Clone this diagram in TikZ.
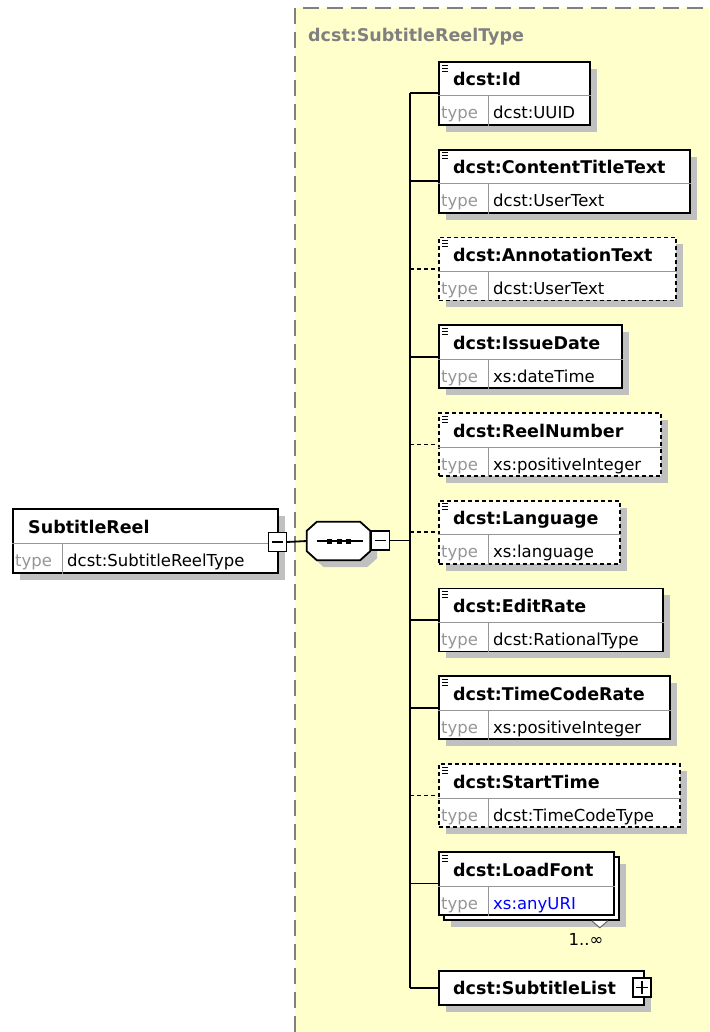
\documentclass[tikz,border=0pt]{standalone}
\usepackage{fontspec}
\setmainfont{DejaVu Sans}
\usepackage{tikz}

\definecolor{typebg}{RGB}{255,255,204}
\definecolor{shadowgray}{RGB}{192,192,192}
\definecolor{framegray}{RGB}{128,128,128}
\definecolor{typegray}{RGB}{150,150,150}
\definecolor{uriblue}{RGB}{0,0,255}

\tikzset{
  shadowed/.style={preaction={fill=shadowgray, draw=none, transform canvas={xshift=7pt, yshift=-7pt}}},
  elembox/.style={draw, fill=white, line width=1.8pt, inner sep=0pt, anchor=north west, minimum height=63pt},
  req/.style={},
  opt/.style={dash pattern=on 4pt off 3pt},
  conn/.style={line width=1.8pt},
  divider/.style={draw=typegray, line width=1pt},
  hdr/.style={font=\fontsize{17.5}{20}\selectfont\bfseries, anchor=base west, inner sep=0pt},
  typelbl/.style={font=\fontsize{16.5}{19}\selectfont, text=typegray, anchor=base west, inner sep=0pt},
  typeval/.style={font=\fontsize{16.5}{19}\selectfont, anchor=base west, inner sep=0pt},
  pmbox/.style={draw, fill=white, line width=1.3pt, minimum width=18pt, minimum height=19pt, inner sep=0pt},
}

\begin{document}
\begin{tikzpicture}[x=1pt, y=-1pt]
\useasboundingbox (0,0) rectangle (709,1032);

% complex type area
\fill[typebg] (295,8) rectangle (709,1032);
\draw[framegray, line width=1.5pt, dash pattern=on 16pt off 8pt] (295,1032) -- (295,8) -- (709,8);
\node[hdr, text=framegray] (typename) at (308,42) {dcst:SubtitleReelType};

% the element itself
\node[elembox, req, shadowed, minimum width=265, minimum height=64] (subreel) at (12,508) {};
\draw[divider] ([yshift=-35pt]subreel.north west) -- ([yshift=-35pt]subreel.north east);
\draw[divider] ([xshift=50pt,yshift=-35pt]subreel.north west) -- ([xshift=50pt]subreel.south west);
\node[hdr] (subreel title) at ([xshift=16pt,yshift=-25pt]subreel.north west) {SubtitleReel};
\node[typelbl] (subreel type) at ([xshift=3pt,yshift=-58pt]subreel.north west) {type};
\node[typeval] (subreel val) at ([xshift=55pt,yshift=-58pt]subreel.north west) {dcst:SubtitleReelType};
\node[pmbox] (reelmin) at (277.5,542) {};
\draw[line width=1.3pt] ([xshift=4pt]reelmin.west) -- ([xshift=-4pt]reelmin.east);

% sequence compositor
\node[inner sep=0pt, minimum width=63pt, minimum height=38pt] (seq) at (338.5,541) {};
\draw[conn, fill=white, shadowed]
  ([xshift=10pt]seq.north west) -- ([xshift=-10pt]seq.north east) -- ([yshift=-9pt]seq.north east)
  -- ([yshift=9pt]seq.south east) -- ([xshift=-10pt]seq.south east) -- ([xshift=10pt]seq.south west)
  -- ([yshift=9pt]seq.south west) -- ([yshift=-9pt]seq.north west) -- cycle;
\draw[conn] ([xshift=-22pt]seq.center) -- ([xshift=24pt]seq.center);
\foreach \dx in {-9.5,0.5,9.5}
  \fill ([xshift=\dx pt-2.5pt, yshift=-2.5pt]seq.center) rectangle ++(5,-5);
\node[pmbox] (seqmin) at (380.5,540.5) {};
\draw[line width=1.3pt] ([xshift=4pt]seqmin.west) -- ([xshift=-4pt]seqmin.east);
\draw[conn] (reelmin.east) -- (seq.west);

\coordinate (trunk) at (410,541);
\draw[conn] (seqmin.east) -- (seqmin.east -| trunk);

% child elements
\foreach \nm/\i/\w/\ttl/\typ/\kind in {
    id/0/151/dcst:Id/dcst:UUID/req,
    ctt/1/251/dcst:ContentTitleText/dcst:UserText/req,
    ann/2/237/dcst:AnnotationText/dcst:UserText/opt,
    date/3/183/dcst:IssueDate/xs:dateTime/req,
    reelno/4/222/dcst:ReelNumber/xs:positiveInteger/opt,
    lang/5/181/dcst:Language/xs:language/opt,
    rate/6/224/dcst:EditRate/dcst:RationalType/req,
    tcr/7/231/dcst:TimeCodeRate/xs:positiveInteger/req,
    start/8/241/dcst:StartTime/dcst:TimeCodeType/opt} {
  \node[elembox, \kind, shadowed, minimum width=\w] (\nm) at (438,{61+87.75*\i}) {};
  \draw[divider] ([yshift=-35pt]\nm.north west) -- ([yshift=-35pt]\nm.north east);
  \draw[divider] ([xshift=50pt,yshift=-35pt]\nm.north west) -- ([xshift=50pt]\nm.south west);
  \foreach \k in {4,7,10}
    \draw[line width=0.8pt] ([xshift=4pt,yshift=-\k pt]\nm.north west) -- ++(6,0);
  \node[hdr] (\nm title) at ([xshift=15pt,yshift=-25pt]\nm.north west) {\ttl};
  \node[typelbl] (\nm type) at ([xshift=3pt,yshift=-58pt]\nm.north west) {type};
  \node[typeval] (\nm val) at ([xshift=55pt,yshift=-58pt]\nm.north west) {\typ};
  \draw[conn, \kind] (\nm.west -| trunk) -- (\nm.west);
}

% LoadFont, more than one
\node[elembox, req, shadowed, minimum width=175] (fontback) at (443,856) {};
\draw[fill=white, draw=black!60, line width=1pt] ([xshift=-28pt]fontback.south east) -- ++(8,7) -- ++(8,-7);
\node[elembox, req, minimum width=175] (font) at (438,851) {};
\draw[divider] ([yshift=-35pt]font.north west) -- ([yshift=-35pt]font.north east);
\draw[divider] ([xshift=50pt,yshift=-35pt]font.north west) -- ([xshift=50pt]font.south west);
\foreach \k in {4,7,10}
  \draw[line width=0.8pt] ([xshift=4pt,yshift=-\k pt]font.north west) -- ++(6,0);
\node[hdr] (font title) at ([xshift=15pt,yshift=-25pt]font.north west) {dcst:LoadFont};
\node[typelbl] (font type) at ([xshift=3pt,yshift=-58pt]font.north west) {type};
\node[typeval, text=uriblue] (font val) at ([xshift=55pt,yshift=-58pt]font.north west) {xs:anyURI};
\node[typeval, anchor=base] (fontmult) at (586,945) {1..∞};
\draw[conn] (font.west -| trunk) -- (font.west);

% SubtitleList
\node[elembox, req, shadowed, minimum width=205, minimum height=34] (list) at (438,970) {};
\node[hdr] (list title) at ([xshift=15pt,yshift=-24pt]list.north west) {dcst:SubtitleList};
\node[pmbox] (listplus) at (642,987.5) {};
\draw[line width=1.3pt] ([xshift=4pt]listplus.west) -- ([xshift=-4pt]listplus.east)
  ([yshift=-4pt]listplus.north) -- ([yshift=4pt]listplus.south);
\draw[conn] (list.west -| trunk) -- (list.west);

% trunk
\draw[conn] (id.west -| trunk) -- (list.west -| trunk);
\end{tikzpicture}
\end{document}
